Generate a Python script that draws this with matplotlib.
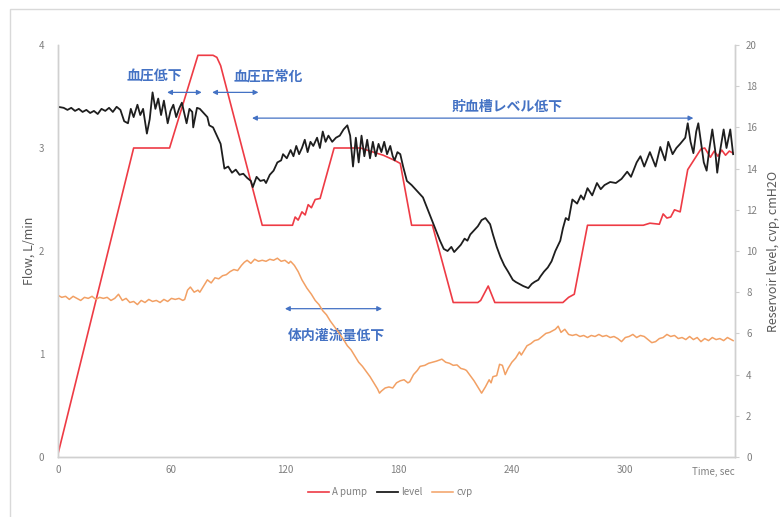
"""
Pump flow, reservoir level and CVP over time (re-drawn from a screenshot).
"""

import matplotlib

matplotlib.use("Agg")
import matplotlib.pyplot as plt
from matplotlib.patches import Rectangle

plt.rcParams["font.family"] = ["Noto Sans CJK JP", "DejaVu Sans"]

# A pump flow, L/min (left axis)
pump_t = [0, 40, 59, 74, 82, 84, 86, 108, 124, 125.4, 127, 129, 130.7, 132.3,
          134, 136, 138.6, 146, 160, 165, 172, 178, 181, 187, 198, 209, 222,
          223.5, 227.5, 231, 267, 270, 273, 280, 309.5, 313, 318, 320, 322,
          324, 326, 329, 333, 340, 342, 345, 347, 349, 351, 353, 355, 357]
pump_v = [0.03, 3.0, 3.0, 3.9, 3.9, 3.88, 3.8, 2.25, 2.25, 2.33, 2.30, 2.38,
          2.35, 2.45, 2.42, 2.50, 2.51, 3.0, 3.0, 2.97, 2.93, 2.88, 2.85, 2.25,
          2.25, 1.5, 1.5, 1.52, 1.66, 1.5, 1.5, 1.55, 1.58, 2.25, 2.25, 2.27,
          2.26, 2.36, 2.32, 2.33, 2.40, 2.38, 2.79, 2.99, 3.0, 2.91, 2.97,
          2.92, 2.98, 2.93, 2.97, 2.95]

# reservoir level, cmH2O (right axis)
level_t = [0, 3, 5, 7, 9, 11, 13, 15, 17, 19, 21, 23, 25, 27, 29, 31, 33, 35,
           37, 38.5, 40, 42, 43.5, 45, 47, 48.5, 50, 51.5, 53, 54.5, 56, 58,
           59.5, 61, 62.5, 64, 65.5, 67, 68, 69.5, 71, 71.5, 73.5, 75, 77, 79,
           80, 82, 84, 86, 87, 88, 90, 92, 94, 96, 98, 100, 102, 103, 105,
           107, 109, 110, 112, 114, 116, 118, 119, 121, 123, 124.5, 126,
           127.5, 129, 130.5, 132, 133.5, 135, 137, 138.5, 140, 141.5, 143,
           145, 147, 149, 151, 153, 154.5, 156, 157.5, 159, 160.5, 162, 163.5,
           165, 166.5, 168, 169.5, 171, 172.5, 174, 175.7, 177, 178, 179.5,
           181, 182.5, 184.5, 187, 190, 193, 196, 199, 202, 204, 206, 208,
           209.5, 211, 213, 215, 216.5, 218, 220, 222, 224, 226, 228.5, 230,
           232, 234, 236, 238, 240.5, 242, 244, 246, 248.7, 250.5, 252, 254,
           255, 257, 259, 261, 263, 265.6, 267, 268.5, 270, 271, 272, 274.5,
           276.5, 278, 280, 282.5, 285, 287, 289, 292, 295, 298, 301, 303,
           306, 308, 310, 313, 316, 318.5, 321, 322.7, 325, 327, 329, 331.7,
           333, 334.5, 336, 337.5, 338.6, 340, 341.5, 343, 344.5, 346, 347.5,
           348.6, 350, 352, 353.5, 355.5, 357]
level_v = [17.0, 16.95, 16.85, 16.95, 16.8, 16.9, 16.75, 16.85, 16.7, 16.8,
           16.65, 16.9, 16.8, 16.95, 16.75, 17.0, 16.85, 16.3, 16.2, 16.9,
           16.5, 17.1, 16.6, 16.9, 15.7, 16.4, 17.7, 16.9, 17.4, 16.6, 17.3,
           16.2, 16.8, 17.1, 16.5, 16.9, 17.2, 16.6, 16.2, 16.9, 16.75, 16.0,
           16.95, 16.9, 16.7, 16.5, 16.1, 16.0, 15.6, 15.2, 14.6, 14.0, 14.1,
           13.8, 13.95, 13.7, 13.75, 13.55, 13.4, 13.1, 13.6, 13.4, 13.45,
           13.3, 13.7, 13.9, 14.3, 14.4, 14.7, 14.5, 14.9, 14.6, 15.1, 14.7,
           15.0, 15.4, 14.8, 15.3, 15.1, 15.5, 15.0, 15.8, 15.3, 15.6, 15.3,
           15.5, 15.6, 15.9, 16.1, 15.6, 14.1, 15.5, 14.3, 15.6, 14.6, 15.4,
           14.5, 15.3, 14.6, 15.2, 14.8, 15.3, 14.7, 15.1, 14.6, 14.4, 14.8,
           14.7, 14.1, 13.4, 13.2, 12.9, 12.6, 11.9, 11.2, 10.5, 10.1, 10.0,
           10.2, 9.95, 10.1, 10.3, 10.6, 10.5, 10.8, 11.0, 11.2, 11.5, 11.6,
           11.3, 10.8, 10.2, 9.7, 9.3, 9.0, 8.6, 8.5, 8.4, 8.3, 8.2, 8.4, 8.5,
           8.6, 8.75, 9.0, 9.2, 9.5, 10.0, 10.5, 11.1, 11.6, 11.5, 12.0, 12.5,
           12.3, 12.7, 12.5, 13.05, 12.7, 13.3, 13.0, 13.2, 13.35, 13.3, 13.5,
           13.85, 13.6, 14.3, 14.6, 14.1, 14.8, 14.1, 15.05, 14.4, 15.3, 14.7,
           15.0, 15.2, 15.5, 16.2, 15.3, 14.75, 15.8, 16.2, 15.3, 14.3, 13.9,
           15.0, 15.9, 14.9, 13.8, 14.8, 15.9, 15.0, 15.9, 14.7]

# central venous pressure, cmH2O (right axis)
cvp_t = [0, 2, 4, 6, 8, 10, 12, 14, 16, 18, 20, 22, 24, 26, 28, 30, 32, 34,
         36, 38, 40, 42, 44, 46, 48, 50, 52, 54, 56, 58, 60, 62, 64, 66, 67,
         68.5, 70, 72, 74, 75, 77, 79, 81, 83, 85, 87, 89, 91, 93, 95, 97,
         98.5, 100, 102, 104, 106, 108, 110, 112, 114, 116, 118, 120, 122,
         123, 125, 127, 129, 131.6, 134, 136, 138, 140, 142, 144, 146, 148,
         151, 153, 155, 157, 159, 161, 163, 165, 167, 169, 170, 171, 173,
         175, 177, 179, 181, 183, 185, 186, 188, 190, 191.5, 194, 196, 198,
         200, 203, 205, 207, 209, 211, 213, 215, 216, 218, 220, 222, 224,
         226, 228, 229, 230, 232, 233.5, 235, 236.5, 238, 240, 242, 244, 245,
         246, 248, 250, 252, 254, 256, 258, 260, 262, 263, 264.5, 266, 268,
         270, 272, 274, 276, 278, 280, 282, 284, 286, 288, 290, 292, 294,
         296, 298, 300, 302, 304, 306, 308, 310, 312, 314, 316, 318, 320,
         322, 324, 326, 328, 330, 332, 334, 336, 338, 340, 342, 344, 346,
         348, 350, 352, 354, 356, 357]
cvp_v = [7.85, 7.75, 7.8, 7.65, 7.8, 7.7, 7.6, 7.75, 7.7, 7.8, 7.65, 7.75,
         7.7, 7.75, 7.6, 7.7, 7.9, 7.6, 7.7, 7.5, 7.55, 7.4, 7.6, 7.5, 7.65,
         7.55, 7.6, 7.5, 7.65, 7.55, 7.7, 7.65, 7.7, 7.6, 7.65, 8.1, 8.25,
         8.0, 8.1, 8.0, 8.3, 8.6, 8.45, 8.7, 8.65, 8.8, 8.85, 9.0, 9.1, 9.05,
         9.3, 9.45, 9.55, 9.4, 9.6, 9.5, 9.55, 9.5, 9.6, 9.55, 9.65, 9.5,
         9.55, 9.4, 9.5, 9.3, 9.0, 8.6, 8.2, 7.9, 7.6, 7.4, 7.1, 6.9, 6.6,
         6.35, 6.1, 5.7, 5.4, 5.2, 4.9, 4.6, 4.4, 4.15, 3.9, 3.6, 3.3, 3.1,
         3.2, 3.35, 3.4, 3.35, 3.6, 3.7, 3.75, 3.6, 3.65, 4.0, 4.2, 4.4,
         4.45, 4.55, 4.6, 4.65, 4.75, 4.6, 4.55, 4.45, 4.47, 4.3, 4.25, 4.2,
         3.95, 3.7, 3.4, 3.1, 3.4, 3.75, 3.6, 3.9, 3.95, 4.5, 4.45, 4.0, 4.3,
         4.6, 4.8, 5.1, 4.95, 5.1, 5.4, 5.5, 5.65, 5.7, 5.85, 6.0, 6.05, 6.15,
         6.2, 6.35, 6.05, 6.2, 5.95, 5.9, 5.95, 5.85, 5.9, 5.8, 5.9, 5.85,
         5.95, 5.85, 5.9, 5.8, 5.85, 5.75, 5.6, 5.8, 5.85, 5.95, 5.8, 5.9,
         5.85, 5.7, 5.55, 5.6, 5.75, 5.8, 5.95, 5.85, 5.9, 5.75, 5.8, 5.7,
         5.85, 5.7, 5.8, 5.6, 5.75, 5.65, 5.8, 5.7, 5.75, 5.65, 5.8, 5.7,
         5.65]

# annotations: label, text position (sec, L/min), arrow span (sec), arrow height
notes = [
    ("血圧低下", (51, 3.69), (57.7, 76), 3.54),
    ("血圧正常化", (111, 3.69), (81.5, 106), 3.54),
    ("貯血槽レベル低下", (237.5, 3.40), (102.6, 336), 3.29),
    ("体内灌流量低下", (147, 1.18), (120, 171.4), 1.44),
]

RED = "#EE3B45"
BLACK = "#1e1e1e"
ORANGE = "#F2A064"
BLUE = "#4472C4"
GRID = "#d0d0d0"
TXT = "#7f7f7f"

fig = plt.figure(figsize=(7.8, 5.17), dpi=100)
fig.patches.append(Rectangle((10 / 780, -0.05), 1.2, 1 - 9 / 517 + 0.05,
                             transform=fig.transFigure, fill=False,
                             edgecolor="#d9d9d9", linewidth=1.0))
ax = fig.add_axes([58 / 780, 60 / 517, 677 / 780, 412 / 517])
ax2 = ax.twinx()

h1, = ax.plot(pump_t, pump_v, color=RED, linewidth=1.2, label="A pump")
h2, = ax2.plot(level_t, level_v, color=BLACK, linewidth=1.3, label="level")
h3, = ax2.plot(cvp_t, cvp_v, color=ORANGE, linewidth=1.1, label="cvp")

ax.set_xlim(0, 358)
ax.set_ylim(0, 4)
ax2.set_ylim(0, 20)
ax.set_xticks([0, 60, 120, 180, 240, 300])
ax.set_yticks([0, 1, 2, 3, 4])
ax2.set_yticks(range(0, 21, 2))

for a in (ax, ax2):
    a.spines["top"].set_visible(False)
    for side in ("left", "right", "bottom"):
        a.spines[side].set_color(GRID)
        a.spines[side].set_linewidth(1.0)
ax.tick_params(axis="both", length=0, labelsize=7, labelcolor=TXT, pad=6)
ax.tick_params(axis="y", pad=10)
ax2.tick_params(axis="y", length=3, color=GRID, labelsize=7,
                labelcolor=TXT, pad=5)

ax.set_ylabel("Flow, L/min", fontsize=9, color="#595959", labelpad=2)
ax2.set_ylabel("Reservoir level, cvp, cmH2O", fontsize=9, color="#595959",
               labelpad=7)
ax.text(1.0, -0.025, "Time, sec", transform=ax.transAxes, ha="right",
        va="top", fontsize=7, color=TXT)

for label, (tx, ty), (x0, x1), ya in notes:
    ax.text(tx, ty, label, ha="center", va="center", fontsize=10,
            color=BLUE, fontweight="bold", zorder=5)
    ax.annotate("", xy=(x1, ya), xytext=(x0, ya),
                arrowprops=dict(arrowstyle="<|-|>", color=BLUE, lw=0.9,
                                mutation_scale=7, shrinkA=0, shrinkB=0),
                zorder=5)

fig.legend(handles=[h1, h2, h3], loc="center", bbox_to_anchor=(0.5, 25 / 517),
           ncol=3, frameon=False, fontsize=7, handlelength=2.2,
           columnspacing=1.0, handletextpad=0.3, labelcolor=TXT)

fig.savefig("out.png", dpi=100)
